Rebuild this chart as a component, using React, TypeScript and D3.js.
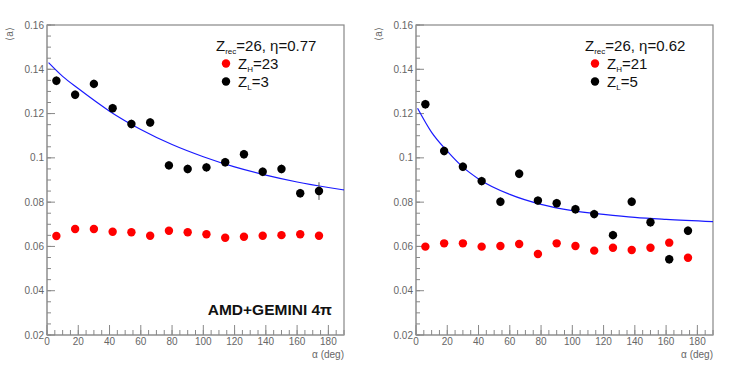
import React from "react";
import * as d3 from "d3";

const alphaBins = [6, 18, 30, 42, 54, 66, 78, 90, 102, 114, 126, 138, 150, 162, 174];

const leftHeavy = [0.0647, 0.0679, 0.0679, 0.0666, 0.0664, 0.0648, 0.0671, 0.0664, 0.0655, 0.0639, 0.0644, 0.0648, 0.0651, 0.0655, 0.0648];
const leftLight = [0.1348, 0.1285, 0.1334, 0.1224, 0.1153, 0.116, 0.0966, 0.095, 0.0957, 0.098, 0.1016, 0.0937, 0.095, 0.084, 0.085];
const leftLightErr = [0.002, 0.002, 0.002, 0.002, 0.002, 0.002, 0.002, 0.002, 0.002, 0.002, 0.002, 0.002, 0.002, 0.002, 0.004];
const leftFitX = [1, 10, 20, 40, 60, 80, 100, 120, 140, 160, 180, 190];
const leftFitY = [0.143, 0.1368, 0.1313, 0.1211, 0.1128, 0.106, 0.1005, 0.0959, 0.0922, 0.0891, 0.0866, 0.0855];

const rightHeavy = [0.0599, 0.0614, 0.0614, 0.0599, 0.0602, 0.0611, 0.0566, 0.0614, 0.0602, 0.0581, 0.0594, 0.0584, 0.0594, 0.0617, 0.0549];
const rightLight = [0.1242, 0.1031, 0.096, 0.0895, 0.0802, 0.0928, 0.0807, 0.0795, 0.0768, 0.0746, 0.0651, 0.0802, 0.0709, 0.0542, 0.0671];
const rightLightErr = [0.002, 0.002, 0.002, 0.002, 0.002, 0.002, 0.002, 0.002, 0.002, 0.002, 0.002, 0.002, 0.002, 0.002, 0.002];
const rightFitX = [1, 10, 20, 30, 40, 60, 80, 100, 120, 140, 160, 190];
const rightFitY = [0.1224, 0.1115, 0.103, 0.0958, 0.0905, 0.0835, 0.079, 0.0762, 0.0745, 0.0731, 0.0722, 0.0712];

const yTicks = [0.02, 0.04, 0.06, 0.08, 0.1, 0.12, 0.14, 0.16];
const yTickLabels = ["0.02", "0.04", "0.06", "0.08", "0.1", "0.12", "0.14", "0.16"];
const xTicks = [0, 20, 40, 60, 80, 100, 120, 140, 160, 180];

const FONT = "'Liberation Sans', Arial, Helvetica, sans-serif";

type PanelProps = {
  x0: number;
  heavy: number[];
  light: number[];
  lightErr: number[];
  fitX: number[];
  fitY: number[];
  eta: string;
  zh: string;
  zl: string;
  legendX: number;
  showTag: boolean;
};

function Panel(p: PanelProps) {
  const W = 297;
  const top = 25;
  const bottom = 335;
  const x = d3.scaleLinear().domain([0, 190]).range([p.x0, p.x0 + W]);
  const y = d3.scaleLinear().domain([0.02, 0.16]).range([bottom, top]);
  const line = d3
    .line<number>()
    .x((_, i) => x(p.fitX[i]))
    .y((d) => y(d))
    .curve(d3.curveMonotoneX);
  const minorY = d3.range(0.02, 0.1601, 0.005);
  const minorX = d3.range(0, 191, 5);
  const axisCol = "#888";
  const labCol = "#666";
  const lx = p.legendX;
  return (
    <g>
      <rect x={p.x0} y={top} width={W} height={bottom - top} fill="none" stroke={axisCol} strokeWidth={1.2} />
      <line x1={p.x0} x2={p.x0} y1={top} y2={bottom} stroke="#aaa" strokeWidth={2} />
      <line x1={p.x0} x2={p.x0 + W} y1={bottom} y2={bottom} stroke="#aaa" strokeWidth={2} />
      {minorY.map((v, i) => (
        <line key={"my" + i} x1={p.x0} x2={p.x0 + 4} y1={y(v)} y2={y(v)} stroke={axisCol} strokeWidth={1} />
      ))}
      {yTicks.map((v, i) => (
        <g key={"y" + i}>
          <line x1={p.x0} x2={p.x0 + 8} y1={y(v)} y2={y(v)} stroke={axisCol} strokeWidth={1} />
          <text x={p.x0 - 3} y={y(v)} dy="0.35em" textAnchor="end" fontSize={10} fill={labCol} fontFamily={FONT}>
            {yTickLabels[i]}
          </text>
        </g>
      ))}
      {minorX.map((v, i) => (
        <line key={"mx" + i} x1={x(v)} x2={x(v)} y1={bottom} y2={bottom - 5} stroke={axisCol} strokeWidth={1} />
      ))}
      {xTicks.map((v, i) => (
        <g key={"x" + i}>
          <line x1={x(v)} x2={x(v)} y1={bottom} y2={bottom - 10} stroke={axisCol} strokeWidth={1} />
          <text x={x(v)} y={bottom + 10} textAnchor="middle" fontSize={10} fill={labCol} fontFamily={FONT}>
            {v}
          </text>
        </g>
      ))}
      <text x={p.x0 + W} y={bottom + 23} textAnchor="end" fontSize={10} fill={labCol} fontFamily={FONT}>
        α (deg)
      </text>
      <text
        transform={`translate(${p.x0 - 34},${top + 9}) rotate(-90)`}
        textAnchor="middle"
        fontSize={10}
        fill={labCol}
        fontFamily={FONT}
      >
        ⟨a⟩
      </text>
      <path d={line(p.fitY) || ""} fill="none" stroke="#1a1aff" strokeWidth={1.2} />
      {p.light.map((v, i) => (
        <line
          key={"e" + i}
          x1={x(alphaBins[i])}
          x2={x(alphaBins[i])}
          y1={y(v - p.lightErr[i])}
          y2={y(v + p.lightErr[i])}
          stroke="#555"
          strokeWidth={1}
        />
      ))}
      {p.heavy.map((v, i) => (
        <circle key={"h" + i} cx={x(alphaBins[i])} cy={y(v)} r={4.2} fill="#ff0000" />
      ))}
      {p.light.map((v, i) => (
        <circle key={"l" + i} cx={x(alphaBins[i])} cy={y(v)} r={4.2} fill="#000" />
      ))}
      <text x={lx} y={50.5} fontSize={15} fill="#111" fontFamily={FONT}>
        Z<tspan fontSize={8} dy={3}>rec</tspan>
        <tspan dy={-3}>=26, η={p.eta}</tspan>
      </text>
      <circle cx={lx + 10} cy={63.5} r={4.2} fill="#ff0000" />
      <text x={lx + 22} y={69} fontSize={15} fill="#111" fontFamily={FONT}>
        Z<tspan fontSize={8} dy={3}>H</tspan>
        <tspan dy={-3}>={p.zh}</tspan>
      </text>
      <circle cx={lx + 10} cy={81.5} r={4.2} fill="#000" />
      <text x={lx + 22} y={87} fontSize={15} fill="#111" fontFamily={FONT}>
        Z<tspan fontSize={8} dy={3}>L</tspan>
        <tspan dy={-3}>={p.zl}</tspan>
      </text>
      {p.showTag && (
        <text x={p.x0 + W - 12} y={314.5} textAnchor="end" fontSize={15.5} fontWeight="bold" fill="#111" fontFamily={FONT}>
          AMD+GEMINI 4π
        </text>
      )}
    </g>
  );
}

export default function App() {
  return (
    <svg width={750} height={367} style={{ position: "absolute", left: 0, top: 0, background: "#fff" }}>
      <rect width={750} height={367} fill="#fff" />
      <Panel
        x0={47}
        heavy={leftHeavy}
        light={leftLight}
        lightErr={leftLightErr}
        fitX={leftFitX}
        fitY={leftFitY}
        eta="0.77"
        zh="23"
        zl="3"
        legendX={216}
        showTag={true}
      />
      <Panel
        x0={416}
        heavy={rightHeavy}
        light={rightLight}
        lightErr={rightLightErr}
        fitX={rightFitX}
        fitY={rightFitY}
        eta="0.62"
        zh="21"
        zl="5"
        legendX={585}
        showTag={false}
      />
    </svg>
  );
}
